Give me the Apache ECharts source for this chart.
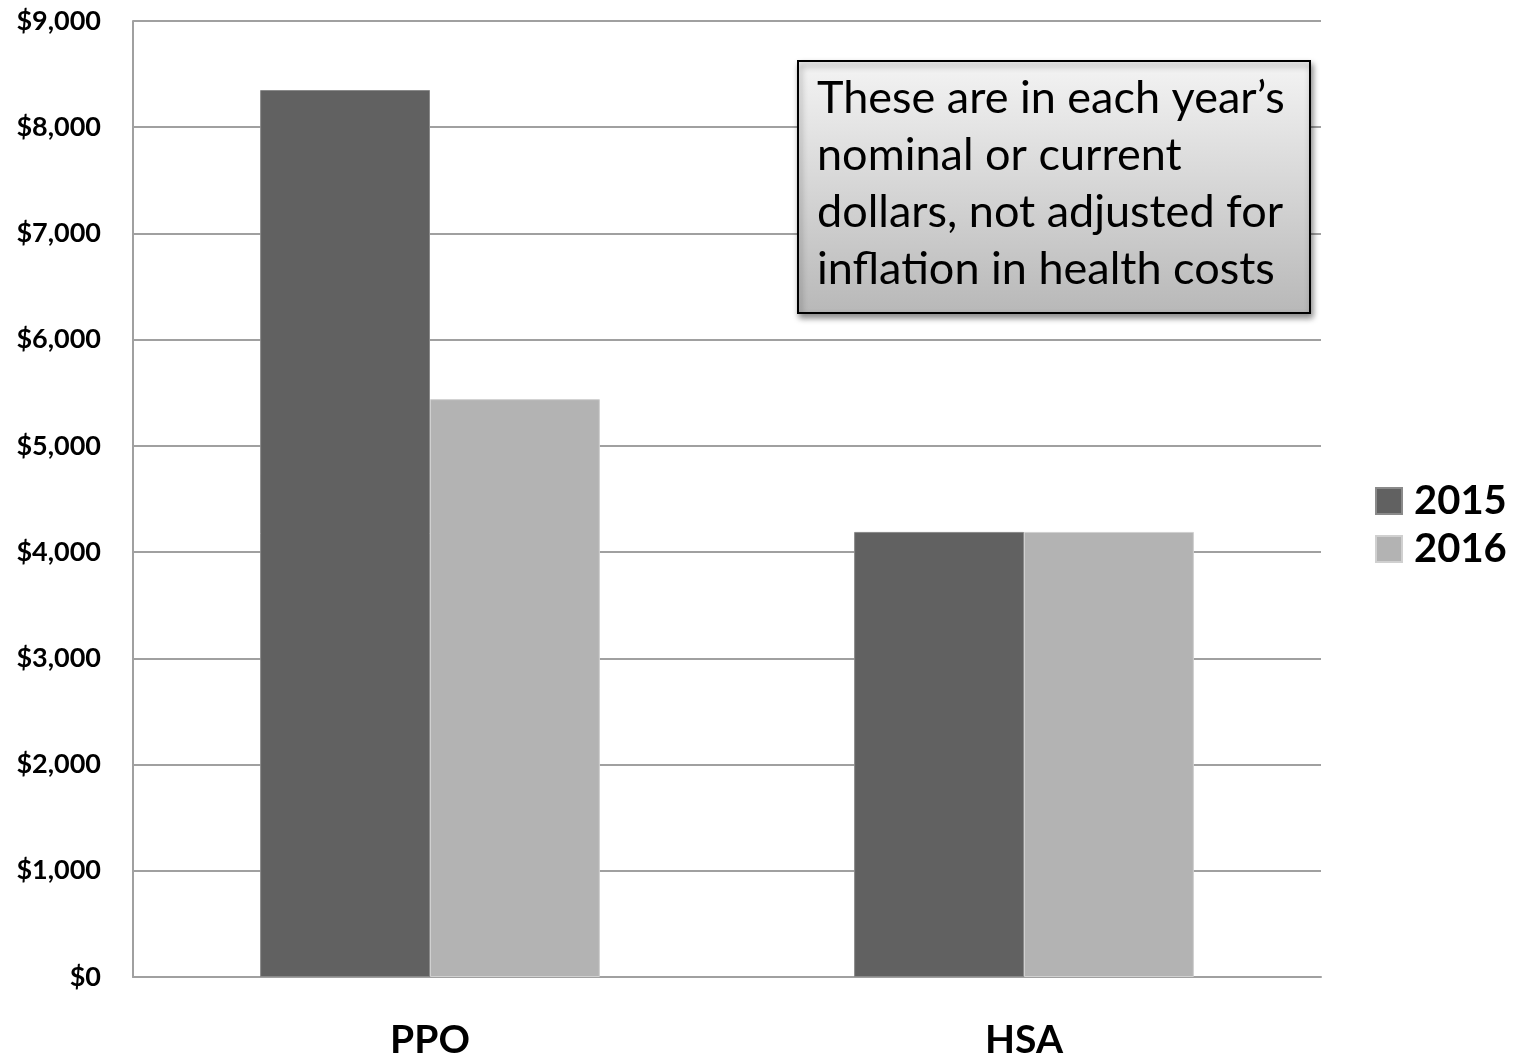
<!DOCTYPE html>
<html>
<head>
<meta charset="utf-8">
<style>
  html, body { margin: 0; padding: 0; background: #fff; }
  #main { width: 1514px; height: 1056px; }
</style>
<script src="https://cdn.jsdelivr.net/npm/echarts@6/dist/echarts.min.js"></script>
</head>
<body>
<div id="main"></div>
<script>
// data
var categories = ['PPO', 'HSA'];
var years = ['2015', '2016'];
var values2015 = [8350, 4190];
var values2016 = [5440, 4190];
var yTicks = [0, 1000, 2000, 3000, 4000, 5000, 6000, 7000, 8000, 9000];
var noteLines = [
    'These are in each year\u2019s',
    'nominal or current',
    'dollars, not adjusted for',
    'inflation in health costs'
];

var font = 'Lato, "Open Sans", sans-serif';
var myChart = echarts.init(document.getElementById('main'));

var option = {
    animation: false,
    grid: { left: 133, right: 193, top: 21, bottom: 79, outerBoundsMode: 'none', containLabel: false },
    legend: {
        data: years,
        orient: 'vertical',
        left: 1370,
        top: 476,
        itemWidth: 26,
        itemHeight: 26,
        itemGap: 8,
        icon: 'rect',
        textStyle: { fontFamily: font, fontWeight: 'bold', fontSize: 40, color: '#000', padding: [0, 0, 0, 7] }
    },
    xAxis: {
        type: 'category',
        data: categories,
        axisTick: { show: false },
        axisLine: { lineStyle: { color: '#a0a0a0', width: 2 } },
        axisLabel: { fontFamily: font, fontWeight: 'bold', fontSize: 39, color: '#000', margin: 44 }
    },
    yAxis: {
        type: 'value',
        min: yTicks[0],
        max: yTicks[yTicks.length - 1],
        interval: 1000,
        axisLine: { show: true, lineStyle: { color: '#a0a0a0', width: 2 } },
        axisTick: { show: false },
        splitLine: { lineStyle: { color: '#a0a0a0', width: 2 } },
        axisLabel: {
            fontFamily: font, fontWeight: 'bold', fontSize: 27, color: '#000', margin: 32,
            formatter: function (v) { return '$' + v.toLocaleString('en-US'); }
        }
    },
    series: [
        {
            name: years[0],
            type: 'bar',
            data: values2015,
            barGap: '0%',
            barCategoryGap: '42.8%',
            itemStyle: { color: '#616161', borderColor: '#8a8a8a', borderWidth: 1 }
        },
        {
            name: years[1],
            type: 'bar',
            data: values2016,
            itemStyle: { color: '#b3b3b3', borderColor: '#d0d0d0', borderWidth: 1 }
        }
    ],
    graphic: [
        {
            type: 'rect',
            left: 797,
            top: 60,
            z: 100,
            shape: { width: 512, height: 252 },
            style: {
                fill: new echarts.graphic.LinearGradient(0, 0, 0, 1, [
                    { offset: 0, color: '#f4f4f4' },
                    { offset: 1, color: '#b8b8b8' }
                ]),
                stroke: '#000',
                lineWidth: 2,
                shadowBlur: 6,
                shadowOffsetX: 2,
                shadowOffsetY: 4,
                shadowColor: 'rgba(0,0,0,0.45)'
            }
        },
        {
            type: 'text',
            left: 817,
            top: 70,
            z: 101,
            style: {
                text: noteLines.join('\n'),
                font: '45px ' + font,
                fill: '#000',
                lineHeight: 57
            }
        }
    ]
};

myChart.setOption(option);
</script>
</body>
</html>
